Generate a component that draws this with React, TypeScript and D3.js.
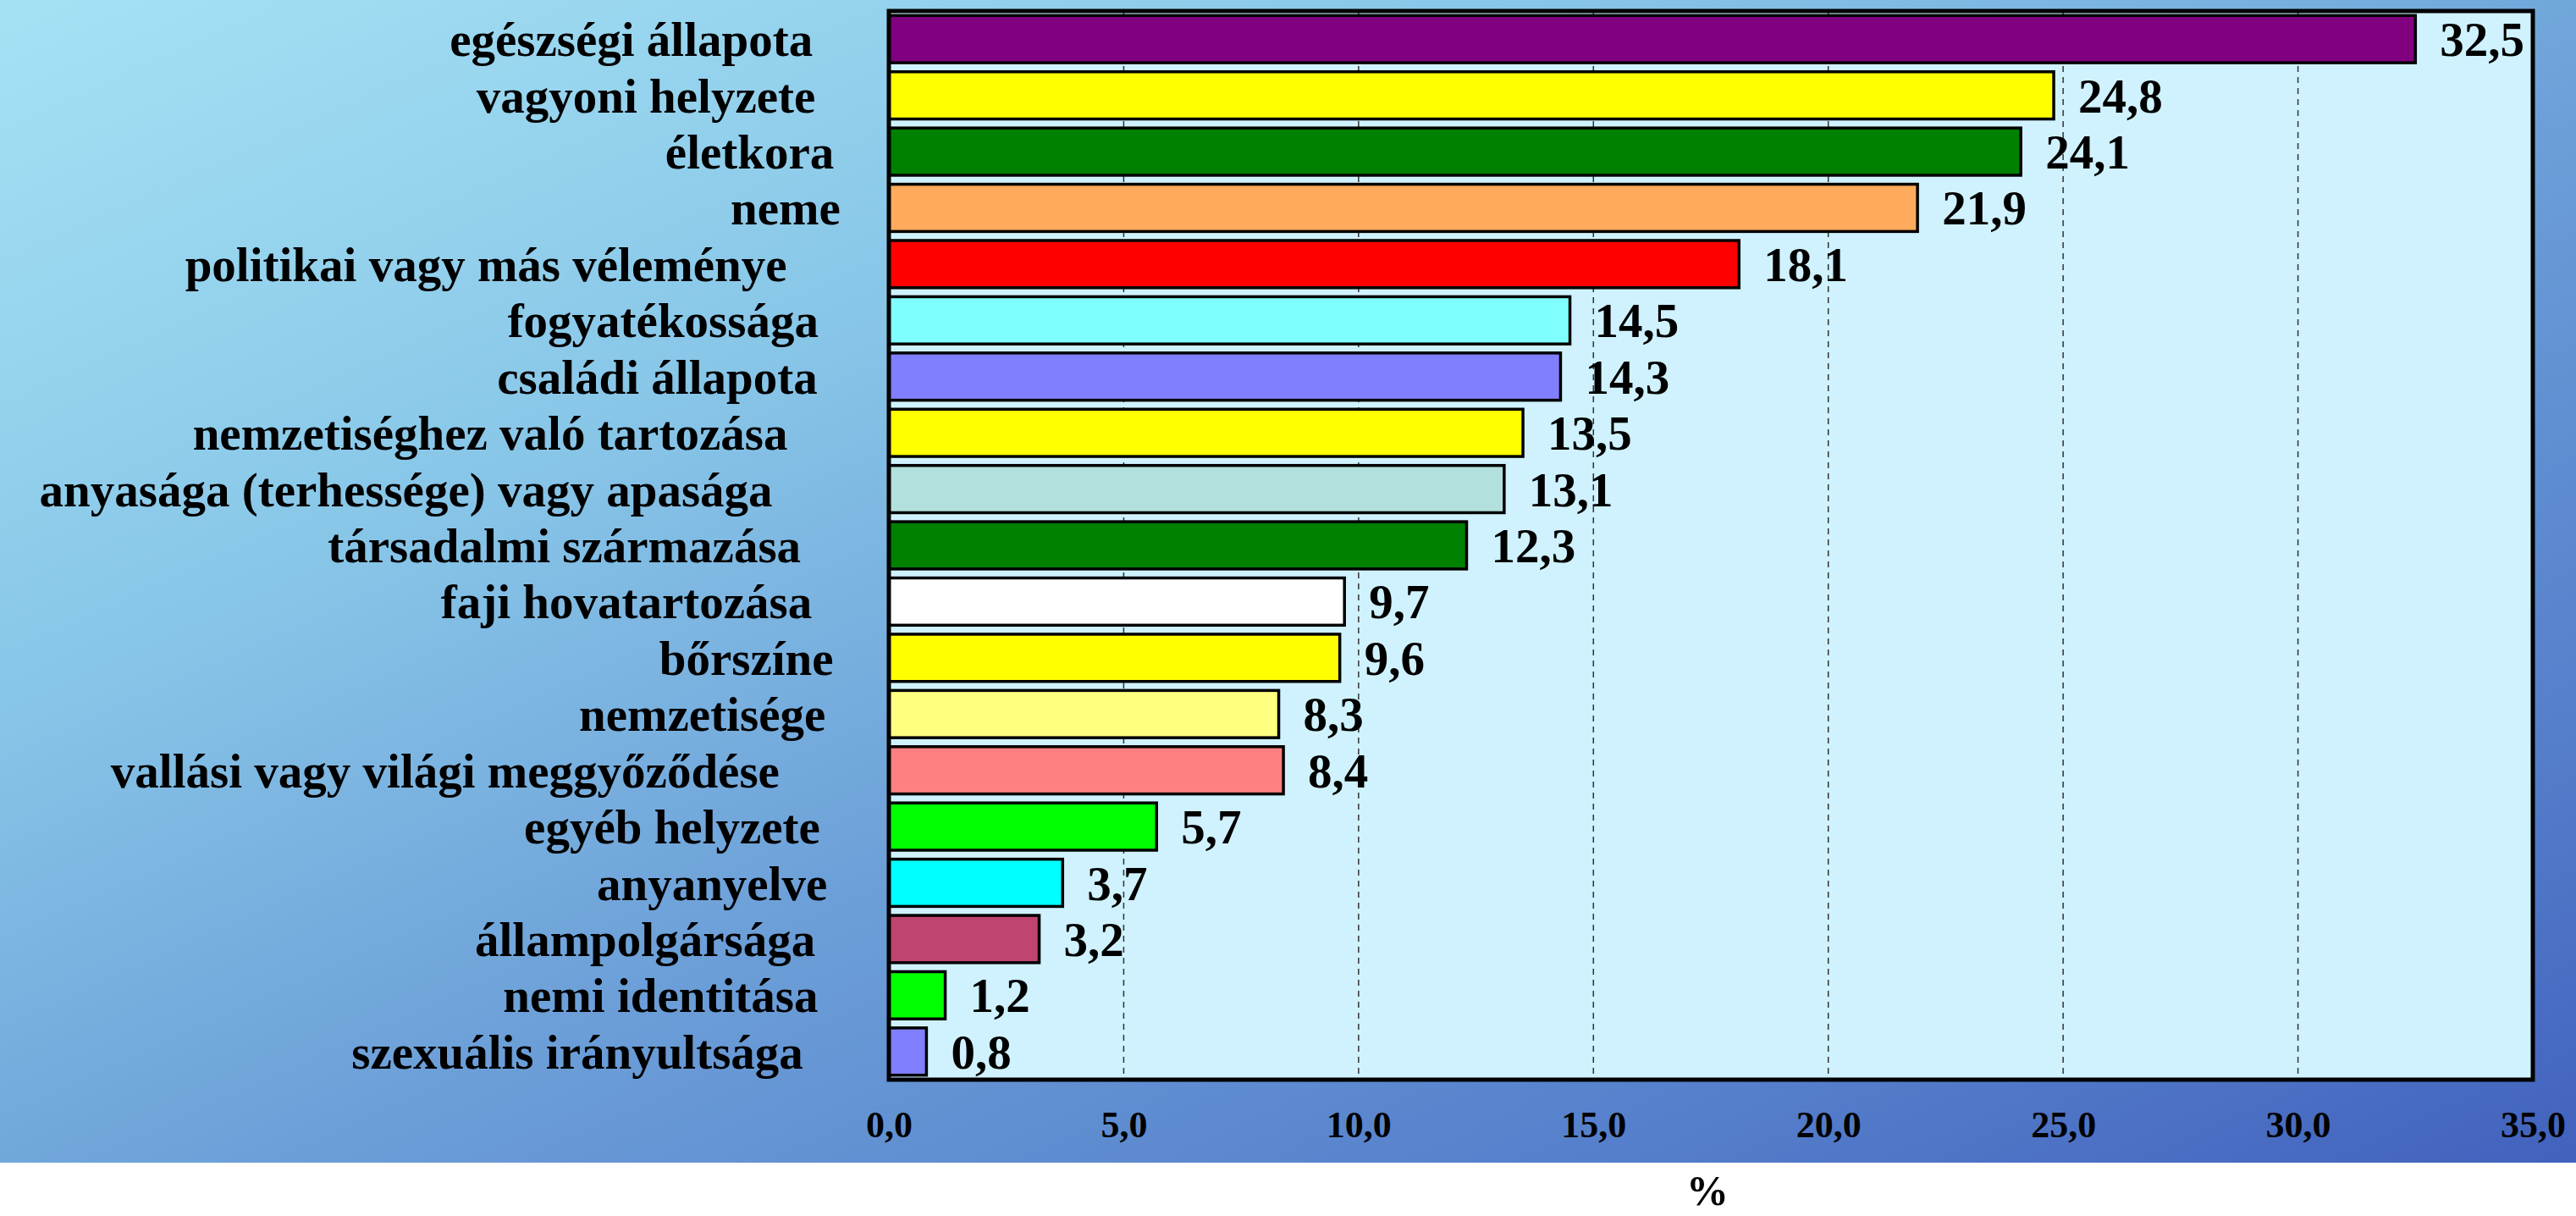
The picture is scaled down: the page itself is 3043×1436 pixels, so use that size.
import React, { useEffect, useRef } from "react";
import * as d3 from "d3";

// chart data
const categories = [
  "egészségi állapota",
  "vagyoni helyzete",
  "életkora",
  "neme",
  "politikai vagy más véleménye",
  "fogyatékossága",
  "családi állapota",
  "nemzetiséghez való tartozása",
  "anyasága (terhessége) vagy apasága",
  "társadalmi származása",
  "faji hovatartozása",
  "bőrszíne",
  "nemzetisége",
  "vallási vagy világi meggyőződése",
  "egyéb helyzete",
  "anyanyelve",
  "állampolgársága",
  "nemi identitása",
  "szexuális irányultsága",
];

const values = [
  32.5, 24.8, 24.1, 21.9, 18.1, 14.5, 14.3, 13.5, 13.1, 12.3, 9.7, 9.6, 8.3,
  8.4, 5.7, 3.7, 3.2, 1.2, 0.8,
];

const barColors = [
  "#800080",
  "#ffff00",
  "#008000",
  "#ffaa5c",
  "#ff0000",
  "#80ffff",
  "#8080ff",
  "#ffff00",
  "#b2e0dc",
  "#008000",
  "#ffffff",
  "#ffff00",
  "#ffff80",
  "#ff8080",
  "#00ff00",
  "#00ffff",
  "#c04470",
  "#00ff00",
  "#8080ff",
];

const xTicks = [0, 5, 10, 15, 20, 25, 30, 35];
const axisTitle = "%";

const W = 3043;
const H = 1436;
const FONT = "'Liberation Serif', 'Times New Roman', serif";

const fmt = (v: number) => d3.format(".1f")(v).replace(".", ",");

function App() {
  const svgRef = useRef<SVGSVGElement>(null);

  useEffect(() => {
    const svg = d3.select(svgRef.current);
    svg.selectAll("*").remove();

    const plot = { left: 1050, right: 2992, top: 13, bottom: 1275 };

    // background gradient
    const defs = svg.append("defs");
    const grad = defs
      .append("linearGradient")
      .attr("id", "bg")
      .attr("x1", 0)
      .attr("y1", 0)
      .attr("x2", 1)
      .attr("y2", 1);
    [
      [0, "#a6e2f4"],
      [0.3, "#88c6e8"],
      [0.55, "#6c9fd8"],
      [0.8, "#5680cc"],
      [1, "#4262bd"],
    ].forEach(([o, c]) =>
      grad.append("stop").attr("offset", o as number).attr("stop-color", c as string)
    );

    svg
      .append("rect")
      .attr("x", 0)
      .attr("y", 0)
      .attr("width", W)
      .attr("height", 1373)
      .attr("fill", "url(#bg)");

    // scales
    const x = d3.scaleLinear().domain([0, 35]).range([plot.left, plot.right]);
    const y = d3
      .scaleBand()
      .domain(categories)
      .range([plot.top, plot.bottom])
      .paddingInner(0.16)
      .paddingOuter(0.08);

    // plot area
    svg
      .append("rect")
      .attr("x", plot.left)
      .attr("y", plot.top)
      .attr("width", plot.right - plot.left)
      .attr("height", plot.bottom - plot.top)
      .attr("fill", "#cff2fe");

    // dashed gridlines
    svg
      .append("g")
      .selectAll("line")
      .data(xTicks.filter((t) => t > 0 && t < 35))
      .join("line")
      .attr("x1", (d) => x(d))
      .attr("x2", (d) => x(d))
      .attr("y1", plot.top)
      .attr("y2", plot.bottom)
      .attr("stroke", "#333")
      .attr("stroke-width", 1.5)
      .attr("stroke-dasharray", "7,6");

    // bars
    const data = categories.map((c, i) => ({ c, v: values[i], color: barColors[i] }));
    svg
      .append("g")
      .selectAll("rect")
      .data(data)
      .join("rect")
      .attr("x", x(0))
      .attr("y", (d) => y(d.c)!)
      .attr("width", (d) => x(d.v) - x(0))
      .attr("height", y.bandwidth())
      .attr("fill", (d) => d.color)
      .attr("stroke", "#000")
      .attr("stroke-width", 3.5);

    // value labels
    svg
      .append("g")
      .selectAll("text")
      .data(data)
      .join("text")
      .attr("x", (d) => x(d.v) + 29)
      .attr("y", (d) => y(d.c)! + y.bandwidth() / 2 + 20)
      .attr("font-family", FONT)
      .attr("font-weight", "bold")
      .attr("font-size", 57)
      .attr("fill", "#000")
      .text((d) => fmt(d.v));

    // category labels (ragged right edge like the original)
    svg
      .append("g")
      .selectAll("text")
      .data(data)
      .join("text")
      .attr("y", (d) => y(d.c)! + y.bandwidth() / 2 + 20)
      .attr("font-family", FONT)
      .attr("font-weight", "bold")
      .attr("font-size", 57)
      .attr("fill", "#000")
      .text((d) => d.c)
      .attr("x", function () {
        const len = (this as SVGTextElement).getComputedTextLength();
        return 1007 - 1.109 * len;
      });

    // frame
    svg
      .append("rect")
      .attr("x", plot.left)
      .attr("y", plot.top)
      .attr("width", plot.right - plot.left)
      .attr("height", plot.bottom - plot.top)
      .attr("fill", "none")
      .attr("stroke", "#000")
      .attr("stroke-width", 5);

    // x axis
    const xAxis = d3
      .axisBottom(x)
      .tickValues(xTicks)
      .tickSize(0)
      .tickPadding(37)
      .tickFormat((d) => fmt(d as number));
    const gx = svg
      .append("g")
      .attr("transform", `translate(0, ${plot.bottom})`)
      .call(xAxis);
    gx.select(".domain").remove();
    gx.selectAll("text")
      .attr("font-family", FONT)
      .attr("font-weight", "bold")
      .attr("font-size", 44)
      .attr("fill", "#000");

    // axis title
    svg
      .append("text")
      .attr("x", (plot.left + plot.right) / 2 - 4)
      .attr("y", 1423)
      .attr("text-anchor", "middle")
      .attr("font-family", FONT)
      .attr("font-weight", "bold")
      .attr("font-size", 50)
      .text(axisTitle);
  }, []);

  return (
    <svg
      ref={svgRef}
      width={W}
      height={H}
      style={{ position: "absolute", left: 0, top: 0, display: "block", background: "#fff" }}
    />
  );
}

export default App;
